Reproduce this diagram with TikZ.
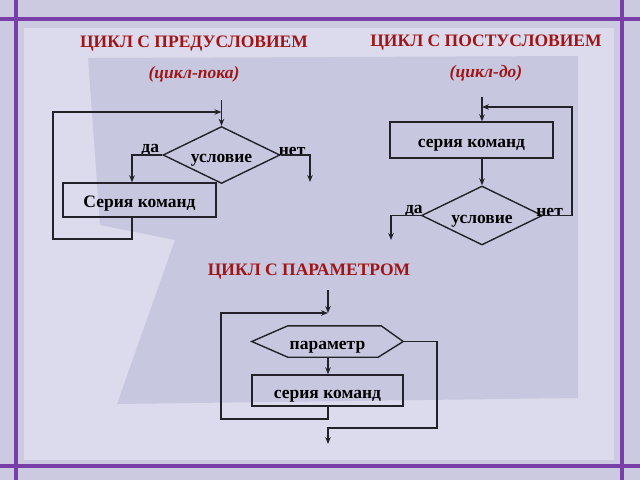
\documentclass[tikz,border=0pt]{standalone}
\usepackage{fontspec}
\setmainfont{Liberation Serif}
\usetikzlibrary{positioning,shapes.geometric,calc,arrows.meta}
\definecolor{titlered}{RGB}{160,22,22}
\definecolor{framepurple}{RGB}{122,62,168}
\definecolor{slidebg}{RGB}{204,202,224}
\definecolor{panelbg}{RGB}{220,218,237}
\definecolor{darkbg}{RGB}{200,199,224}
\definecolor{inkgray}{RGB}{34,34,40}
\tikzset{%
  arr/.style = {-{Stealth[length=7pt,width=5.5pt]},line width=1.4pt,draw=inkgray},
  ln/.style = {line width=1.4pt,draw=inkgray},
  cond/.style = {diamond,aspect=2,draw=inkgray,line width=1.4pt,inner sep=0pt,
        text height=15pt,text depth=0pt,
        font=\bfseries\fontsize{17.5}{17.5}\selectfont},
  cmd/.style = {rectangle,draw=inkgray,line width=1.4pt,inner sep=0pt,
        text height=15pt,text depth=0pt,
        font=\bfseries\fontsize{17.5}{17.5}\selectfont},
  ttl/.style = {text=titlered,font=\bfseries\fontsize{17.5}{17.5}\selectfont},
  sub/.style = {text=titlered,font=\bfseries\itshape\fontsize{17.5}{17.5}\selectfont},
  lbl/.style = {inner sep=1pt,font=\bfseries\fontsize{17.5}{17.5}\selectfont}
}
\begin{document}
\begin{tikzpicture}[x=1pt,y=-1pt]
% slide background
\useasboundingbox (0,0) rectangle (640,480);
\fill[slidebg] (0,0) rectangle (640,480);
\fill[panelbg] (24,28) rectangle (614,460);
\fill[darkbg] (88,58) -- (578,56) -- (578,398) -- (117,404) -- (175,240) -- (100,225) -- cycle;
\draw[framepurple,line width=4.5pt] (16,0) -- (16,480) (622,0) -- (622,480)
  (0,19) -- (640,19) (0,466) -- (640,466);

% titles
\node[ttl] (t1) at (194,44) {ЦИКЛ С ПРЕДУСЛОВИЕМ};
\node[sub] (s1) at (194,74) {(цикл-пока)};
\node[ttl] (t2) at (486,43) {ЦИКЛ С ПОСТУСЛОВИЕМ};
\node[sub] (s2) at (486,73) {(цикл-до)};
\node[ttl] (t3) at (309,272) {ЦИКЛ С ПАРАМЕТРОМ};

% pre-condition loop
\node[cond,minimum width=117pt,minimum height=57pt] (lcond) at (221.5,155) {условие};
\node[cmd,minimum width=153pt,minimum height=34pt] (lcmd) at (139.5,200) {Серия команд};
\coordinate (lin) at (221.5,100);
\coordinate (ljoin) at (221.5,112);
\coordinate (lyes) at (132,155);
\coordinate (lno) at (310,182);
\coordinate (lback) at (53,239);
\node[lbl,above left=-2pt and 2pt of lcond.west] (lda) {да};
\node[lbl,above right=-2pt and -3pt of lcond.east] (lnet) {нет};
\draw[arr] (lin) -- (lcond.north);
\draw[arr] (lcond.west) -- (lyes) -- (lyes |- lcmd.north);
\draw[arr] (lcond.east) -| (lno);
\draw[arr] (lyes |- lcmd.south) |- (lback) |- (ljoin);

% post-condition loop
\node[cmd,minimum width=163pt,minimum height=36pt] (rcmd) at (471.5,140) {серия команд};
\node[cond,minimum width=121pt,minimum height=59pt] (rcond) at (482,215.5) {условие};
\coordinate (rin) at (482,97);
\coordinate (rjoin) at (482,107);
\coordinate (rno) at (572,107);
\coordinate (ryes) at (391,240);
\node[lbl,above left=-2pt and -3pt of rcond.west] (rda) {да};
\node[lbl,above right=-2pt and -8pt of rcond.east] (rnet) {нет};
\draw[arr] (rin) -- (rin |- rcmd.north);
\draw[arr] (rcmd.south -| rcond) -- (rcond.north);
\draw[arr] (rcond.east) -| (rno) -- (rjoin);
\draw[arr] (rcond.west) -| (ryes);

% loop with parameter
\node[lbl,minimum width=151pt,minimum height=31pt,text height=15pt,text depth=0pt] (par) at (327.5,341.5) {параметр};
\draw[ln] ($(par.north west)+(36,0)$) -- ($(par.north east)+(-22,0)$) -- (par.east)
  -- ($(par.south east)+(-25,0)$) -- ($(par.south west)+(36,0)$) -- (par.west) -- cycle;
\node[cmd,minimum width=151pt,minimum height=31pt] (bcmd) at (327.5,390.5) {серия команд};
\coordinate (bin) at (328,290);
\coordinate (bjoin) at (328,313);
\coordinate (bback) at (221,419);
\coordinate (bright) at (437,428);
\coordinate (bout) at (328,444);
\draw[arr] (bin) -- (bjoin);
\draw[arr] (par.south -| bjoin) -- (bcmd.north -| bjoin);
\draw[arr] (bcmd.south -| bjoin) |- (bback) |- (bjoin);
\draw[arr] (par.east) -| (bright) -| (bout);
\end{tikzpicture}
\end{document}
